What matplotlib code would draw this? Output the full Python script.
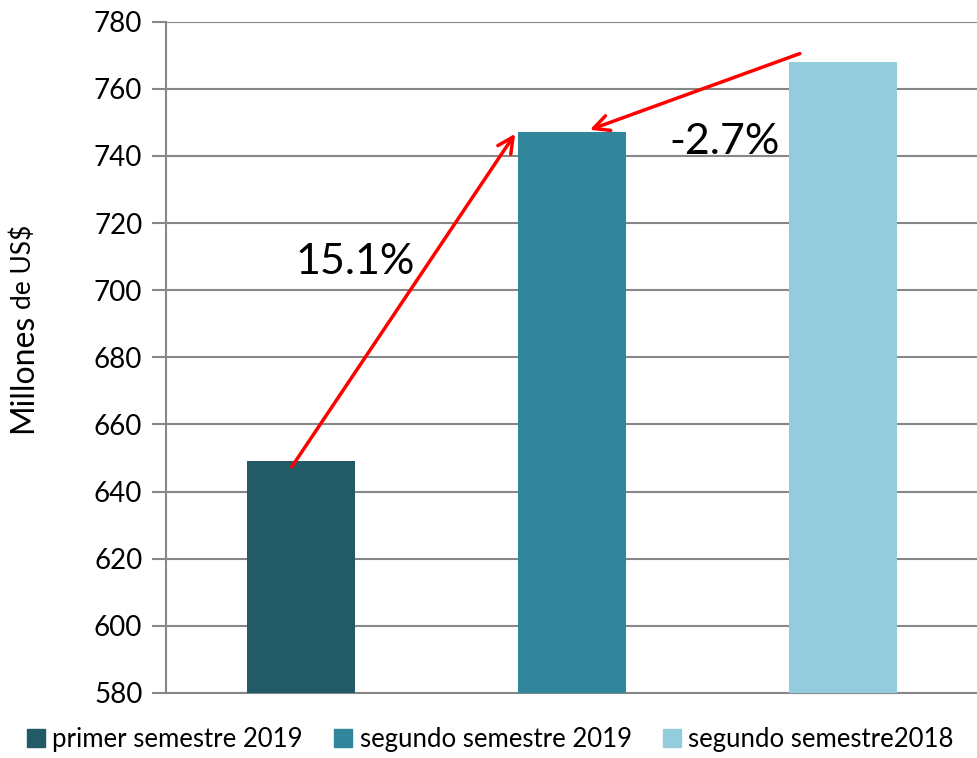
import matplotlib
matplotlib.use('Agg')
import matplotlib.pyplot as plt
from matplotlib.lines import Line2D

plt.rcParams['font.family'] = ['Lato', 'DejaVu Sans']

# data
categorias = ['primer semestre 2019', 'segundo semestre 2019', 'segundo semestre2018']
valores = [649.2, 747.2, 768.0]
colores = ['#235a68', '#31869b', '#93cddd']
cambios = ['15.1%', '-2.7%']
yticks = list(range(580, 781, 20))

fig = plt.figure(figsize=(9.78, 7.58), dpi=100)
ax = fig.add_axes([0.1697, 0.0858, 0.8303, 0.8856])

x = list(range(len(valores)))
ax.bar(x, valores, width=0.4, color=colores, zorder=3)

ax.set_xlim(-0.5, 2.5)
ax.set_ylim(580, 780)
ax.set_yticks(yticks)
ax.set_xticks([])
ax.tick_params(axis='y', labelsize=20, length=10, width=1.5, color='#878787', pad=7)
ax.yaxis.grid(True, color='#878787', lw=1.5, zorder=0)
for s in ['top', 'right']:
    ax.spines[s].set_visible(False)
for s in ['left', 'bottom']:
    ax.spines[s].set_color('#878787')
    ax.spines[s].set_linewidth(1.5)

# arrows
flecha = dict(arrowstyle='->', color='red', lw=2.5, mutation_scale=28,
              shrinkA=0, shrinkB=0)
ax.annotate('', xy=(0.79, 746.6), xytext=(-0.035, 647.4), arrowprops=flecha, zorder=5)
ax.annotate('', xy=(1.066, 747.8), xytext=(1.842, 770.5), arrowprops=flecha, zorder=5)
ax.text(0.2, 708.5, cambios[0], fontsize=31, ha='center', va='center', zorder=6)
ax.text(1.565, 744.2, cambios[1], fontsize=31, ha='center', va='center', zorder=6)

# y label in two sizes
t1 = fig.text(0.024, 1 - 433 / 758, 'Millones', rotation=90, fontsize=23,
              ha='center', va='bottom')
fig.canvas.draw()
bb = t1.get_window_extent(fig.canvas.get_renderer())
fig.text(0.024, (bb.y1 + 5) / fig.bbox.height, 'de US$', rotation=90,
         fontsize=19, ha='center', va='bottom')

# legend
handles = [Line2D([], [], marker='s', ls='', markersize=13, color=c) for c in colores]
fig.legend(handles, categorias, loc='lower center', bbox_to_anchor=(0.5, -0.022),
           ncol=3, frameon=False, fontsize=18.5, handletextpad=0.2,
           columnspacing=1.1, handlelength=0.9)

fig.savefig('out.png', dpi=100)
